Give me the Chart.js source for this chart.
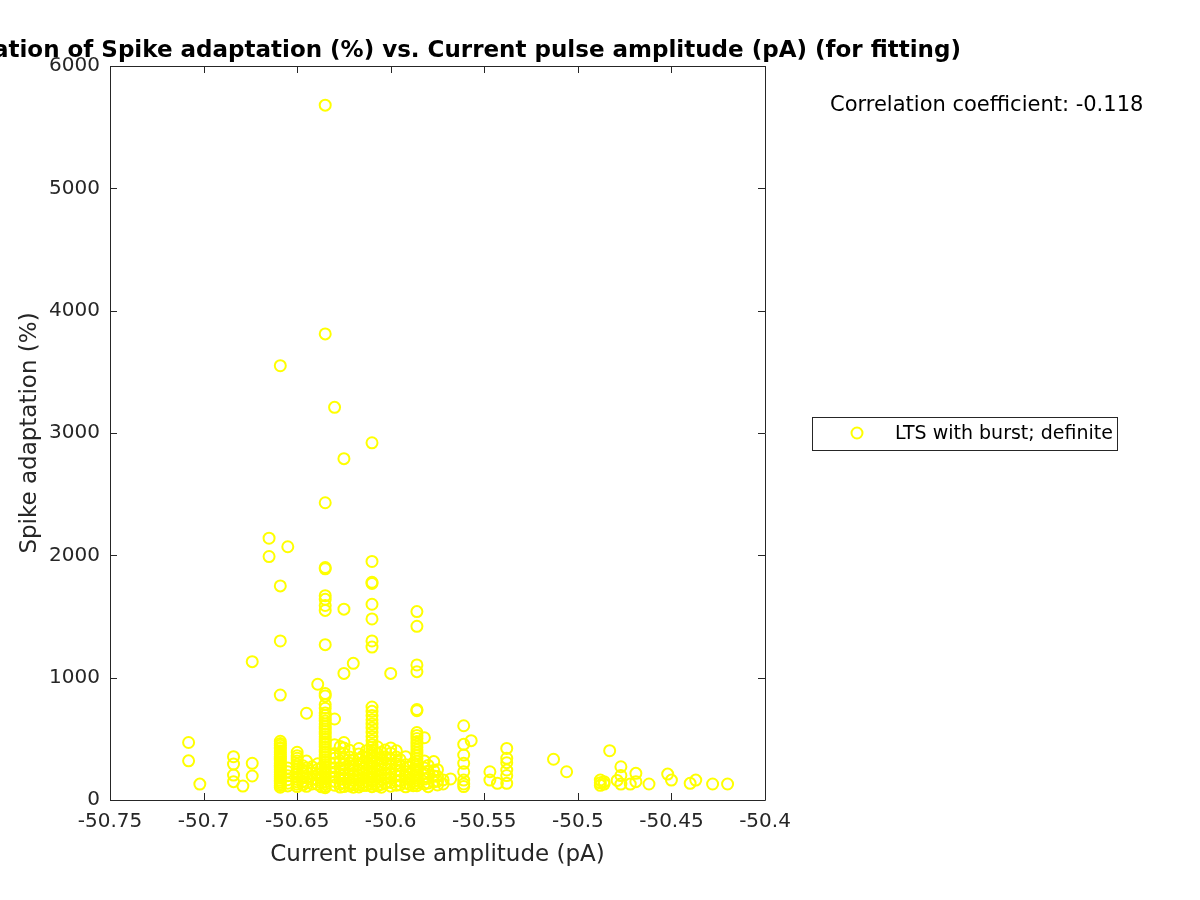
<!DOCTYPE html>
<html>
<head>
<meta charset="utf-8">
<script src="https://cdn.jsdelivr.net/npm/chart.js@4.4.1/dist/chart.umd.min.js"></script>
<style>
html,body{margin:0;padding:0;background:#fff;}
#wrap{width:1200px;height:900px;position:relative;}
</style>
</head>
<body>
<div id="wrap"><canvas id="c" width="1200" height="900"></canvas></div>
<script>
// ---- data ----
const titleText = "Correlation of Spike adaptation (%) vs. Current pulse amplitude (pA) (for fitting)";
const xLabel = "Current pulse amplitude (pA)";
const yLabel = "Spike adaptation (%)";
const seriesName = "LTS with burst; definite";
const corrText = "Correlation coefficient: -0.118";
const xTicks = [-50.75, -50.7, -50.65, -50.6, -50.55, -50.5, -50.45, -50.4];
const yTicks = [0, 1000, 2000, 3000, 4000, 5000, 6000];

// amplitude levels and spike adaptation values at each level
const ampLevels = [
  -50.708, -50.702, -50.684, -50.679, -50.674, -50.665, -50.659, -50.655,
  -50.650, -50.647, -50.645, -50.642, -50.639, -50.637, -50.635, -50.630,
  -50.627, -50.625, -50.622, -50.620, -50.617, -50.615, -50.613, -50.610,
  -50.607, -50.605, -50.603, -50.600, -50.597, -50.595, -50.592, -50.590,
  -50.588, -50.586, -50.582, -50.580, -50.577, -50.575, -50.572, -50.568,
  -50.561, -50.557, -50.547, -50.543, -50.538, -50.513, -50.506, -50.488,
  -50.486, -50.483, -50.479, -50.477, -50.472, -50.469, -50.462, -50.452,
  -50.450, -50.440, -50.437, -50.428, -50.420
];
const adaptValues = [
  [470, 320],
  [130],
  [354, 294, 204, 150],
  [114],
  [1131, 300, 196],
  [2140, 1990],
  [3550, 1750, 1300, 858, 480, 462, 447, 430, 418, 401, 386, 371, 355, 342, 326, 311, 297, 283, 268, 251, 238, 222, 207, 193, 178, 161, 147, 133, 118, 104],
  [2070, 262, 231, 198, 166, 137, 115],
  [390, 362, 341, 318, 293, 272, 251, 229, 211, 188, 169, 148, 129, 110],
  [280, 246, 214, 181, 152, 124],
  [709, 318, 262, 229, 184, 141, 112],
  [272, 221, 168, 131],
  [946, 296, 251, 207, 163, 128],
  [265, 218, 176, 139, 108],
  [5680, 3810, 2430, 1900, 1890, 1670, 1640, 1590, 1550, 1270, 870, 850, 780, 750, 712, 690, 668, 645, 622, 601, 580, 559, 538, 517, 496, 474, 455, 433, 413, 392, 371, 351, 330, 310, 291, 270, 249, 229, 210, 189, 170, 149, 131, 112, 100],
  [3210, 662, 452, 380, 341, 302, 263, 228, 189, 152, 121],
  [437, 382, 318, 266, 214, 171, 132, 106],
  [2790, 1560, 1035, 470, 425, 381, 337, 290, 246, 203, 168, 139, 110],
  [406, 352, 301, 256, 213, 174, 138, 115],
  [1117, 330, 281, 239, 196, 160, 126, 104],
  [421, 377, 334, 289, 243, 201, 164, 131, 107],
  [356, 306, 259, 214, 176, 141, 118],
  [402, 348, 293, 244, 197, 153, 119],
  [2920, 1950, 1780, 1770, 1600, 1480, 1300, 1250, 760, 725, 690, 656, 621, 588, 553, 519, 486, 452, 431, 408, 386, 363, 342, 320, 298, 277, 255, 233, 212, 191, 170, 149, 128, 109],
  [433, 381, 327, 282, 236, 189, 149, 116],
  [390, 338, 291, 249, 205, 166, 128, 104],
  [408, 352, 301, 262, 218, 176, 138],
  [1035, 426, 383, 339, 292, 251, 213, 177, 143, 113],
  [402, 351, 297, 244, 196, 155, 121],
  [331, 282, 238, 197, 158, 124],
  [354, 288, 231, 182, 138, 108],
  [268, 214, 168, 127],
  [302, 247, 198, 152, 117],
  [1540, 1420, 1104, 1049, 740, 730, 552, 528, 503, 478, 455, 431, 409, 384, 362, 339, 316, 293, 270, 248, 226, 203, 181, 160, 138, 117],
  [509, 318, 262, 217, 171, 132],
  [283, 231, 182, 138, 109],
  [314, 241, 196, 147],
  [248, 192, 154, 123],
  [164, 131],
  [172],
  [607, 455, 368, 300, 231, 163, 131, 110],
  [485],
  [231, 163],
  [136],
  [422, 341, 305, 245, 200, 136],
  [333],
  [231],
  [163, 140, 120],
  [150, 130],
  [403],
  [160],
  [272, 200, 130],
  [130],
  [218, 150],
  [131],
  [212],
  [163],
  [136],
  [163],
  [131],
  [131]
];

// build point table for Chart.js
const points = [];
ampLevels.forEach((a, i) => adaptValues[i].forEach(v => points.push({x: a, y: v})));

const AXIS = '#262626';
const FONT = 'DejaVu Sans';

const decor = {
  id: 'decor',
  afterDatasetsDraw(chart) {
    const ctx = chart.ctx, a = chart.chartArea;
    const xs = chart.scales.x, ys = chart.scales.y;
    ctx.save();
    ctx.strokeStyle = AXIS; ctx.lineWidth = 1;
    ctx.beginPath();
    ctx.rect(Math.round(a.left) + 0.5, Math.round(a.top) + 0.5, Math.round(a.right - a.left), Math.round(a.bottom - a.top));
    ctx.stroke();
    const tl = 7;
    ctx.beginPath();
    xTicks.forEach(v => {
      const px = Math.round(xs.getPixelForValue(v)) + 0.5;
      ctx.moveTo(px, a.bottom); ctx.lineTo(px, a.bottom - tl);
      ctx.moveTo(px, a.top); ctx.lineTo(px, a.top + tl);
    });
    yTicks.forEach(v => {
      const py = Math.round(ys.getPixelForValue(v)) + 0.5;
      ctx.moveTo(a.left, py); ctx.lineTo(a.left + tl, py);
      ctx.moveTo(a.right, py); ctx.lineTo(a.right - tl, py);
    });
    ctx.stroke();

    // title
    ctx.fillStyle = '#000';
    ctx.font = 'bold 23px "' + FONT + '"';
    ctx.textAlign = 'center'; ctx.textBaseline = 'alphabetic';
    ctx.fillText(titleText, (a.left + a.right) / 2, 57);

    // axis labels
    ctx.fillStyle = AXIS;
    ctx.font = '23px "' + FONT + '"';
    ctx.fillText(xLabel, (a.left + a.right) / 2, 861);
    ctx.save();
    ctx.translate(36, (a.top + a.bottom) / 2);
    ctx.rotate(-Math.PI / 2);
    ctx.fillText(yLabel, 0, 0);
    ctx.restore();

    // correlation text
    ctx.fillStyle = '#000';
    ctx.font = '21px "' + FONT + '"';
    ctx.textAlign = 'left';
    ctx.fillText(corrText, 830, 111);

    // legend box
    ctx.fillStyle = '#fff';
    ctx.fillRect(812.5, 417.5, 305, 33);
    ctx.strokeStyle = AXIS;
    ctx.strokeRect(812.5, 417.5, 305, 33);
    ctx.strokeStyle = '#ffff00'; ctx.lineWidth = 2;
    ctx.beginPath(); ctx.arc(857, 433, 5.5, 0, Math.PI * 2); ctx.stroke();
    ctx.fillStyle = '#000';
    ctx.font = '19px "' + FONT + '"';
    ctx.textBaseline = 'middle';
    ctx.fillText(seriesName, 895, 434);
    ctx.restore();
  }
};

new Chart(document.getElementById('c'), {
  type: 'scatter',
  data: {
    datasets: [{
      label: seriesName,
      data: points,
      pointStyle: 'circle',
      pointRadius: 5.5,
      pointBorderWidth: 2,
      pointBorderColor: '#ffff00',
      pointBackgroundColor: 'rgba(0,0,0,0)',
      pointHoverRadius: 5.5
    }]
  },
  options: {
    responsive: false,
    animation: false,
    events: [],
    layout: { padding: { top: 66, right: 435, left: 0, bottom: 0 } },
    plugins: { legend: { display: false }, title: { display: false }, tooltip: { enabled: false } },
    scales: {
      x: {
        type: 'linear', min: -50.75, max: -50.4,
        grid: { display: false, drawTicks: false },
        border: { display: false },
        afterBuildTicks: s => { s.ticks = xTicks.map(v => ({ value: v })); },
        afterFit: s => { s.height = 100; },
        ticks: {
          color: AXIS, padding: 10,
          font: { family: FONT, size: 20 },
          maxRotation: 0, autoSkip: false,
          callback: v => String(Number(v.toFixed(2)))
        }
      },
      y: {
        type: 'linear', min: 0, max: 6000,
        grid: { display: false, drawTicks: false },
        border: { display: false },
        afterBuildTicks: s => { s.ticks = yTicks.map(v => ({ value: v })); },
        afterFit: s => { s.width = 110; },
        ticks: {
          color: AXIS, padding: 10,
          font: { family: FONT, size: 20 },
          autoSkip: false,
          callback: v => String(v)
        }
      }
    }
  },
  plugins: [decor]
});
</script>
</body>
</html>
